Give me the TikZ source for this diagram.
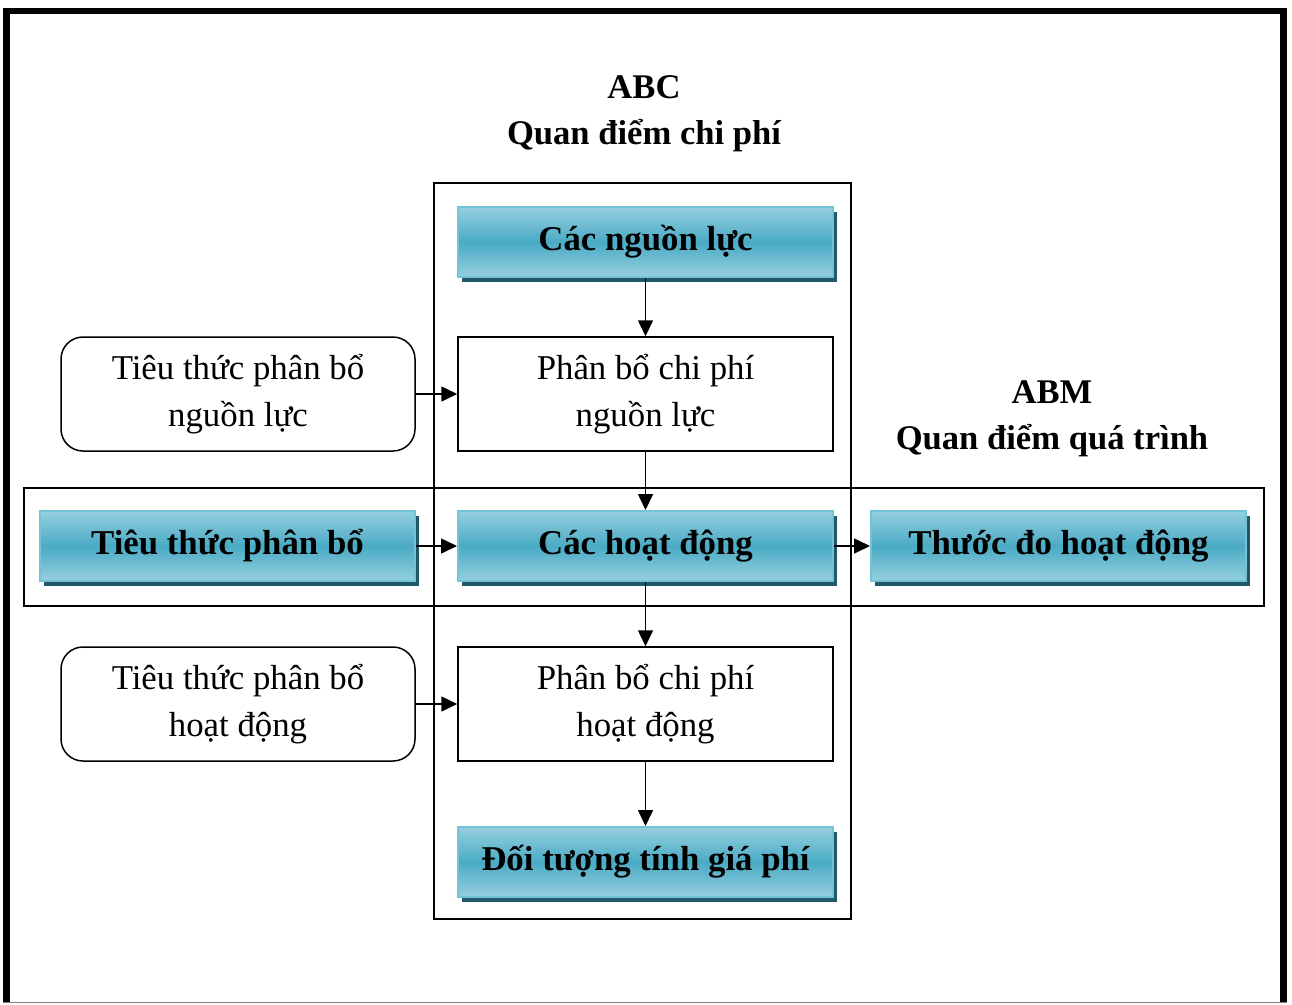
\documentclass[tikz,border=0pt]{standalone}
\usepackage{fontspec}
\setmainfont{Liberation Serif}
\usetikzlibrary{arrows.meta,shadows}
\definecolor{tealL}{HTML}{95CFDE}
\definecolor{tealM}{HTML}{4AABC5}
\definecolor{tealB}{HTML}{74C2D7}
\definecolor{tealD}{HTML}{22596A}
\begin{document}
\begin{tikzpicture}[x=1pt,y=-1pt,
  txt/.style={font=\fontsize{34.8}{47}\selectfont, align=center},
  tealbox/.style={txt, font=\fontsize{34.8}{47}\selectfont\bfseries,
    minimum width=375pt, minimum height=70pt, inner sep=0pt,
    draw=tealB, line width=2pt,
    top color=tealL, bottom color=tealL, middle color=tealM,
    drop shadow={shadow xshift=4pt, shadow yshift=-5pt, fill=tealD, opacity=1}},
  whitebox/.style={txt, minimum width=375pt, minimum height=114pt, inner sep=0pt,
    draw=black, line width=1.5pt, fill=white},
  roundbox/.style={txt, minimum width=354pt, minimum height=114pt, inner sep=0pt,
    draw=black, line width=1.5pt, rounded corners=22pt, fill=white},
  frame/.style={draw=black, line width=1.6pt},
  link/.style={draw=black, line width=1.6pt, -{Triangle[length=16pt,width=15pt]}},
  title/.style={font=\fontsize{34.6}{46}\selectfont\bfseries, align=center}]

\useasboundingbox (0,0) rectangle (1292,1004);

% page border
\fill[black] (3,8) rectangle (1287,14);
\fill[black] (3,8) rectangle (10,1003);
\fill[black] (1280,8) rectangle (1287,1003);
\draw[gray, line width=1pt] (3,1002.5) -- (1287,1002.5);

% the two perspective frames
\draw[frame] (434,183) rectangle (851,919);
\draw[frame] (24,488) rectangle (1264,606);

% headings
\node[title] (abc) at (644,114) {ABC\\Quan điểm chi phí};
\node[title] (abm) at (1052,419) {ABM\\Quan điểm quá trình};

% central column
\node[tealbox] (res) at (645.5,242) {Các nguồn lực};
\node[whitebox] (allocres) at (645.5,394) {Phân bổ chi phí\\nguồn lực};
\node[tealbox] (act) at (645.5,546) {Các hoạt động};
\node[whitebox] (allocact) at (645.5,704) {Phân bổ chi phí\\hoạt động};
\node[tealbox] (obj) at (645.5,862) {Đối tượng tính giá phí};

% side boxes
\node[roundbox] (drvres) at (238,394) {Tiêu thức phân bổ\\nguồn lực};
\node[tealbox] (drv) at (227.5,546) {Tiêu thức phân bổ};
\node[roundbox] (drvact) at (238,704) {Tiêu thức phân bổ\\hoạt động};
\node[tealbox] (meas) at (1058.5,546) {Thước đo hoạt động};

% connectors
\draw[link] (res) -- (allocres);
\draw[link] (allocres) -- (act);
\draw[link] (act) -- (allocact);
\draw[link] (allocact) -- (obj);
\draw[link] (drvres) -- (allocres);
\draw[link] (drv) -- (act);
\draw[link] (act) -- (meas);
\draw[link] (drvact) -- (allocact);
\end{tikzpicture}
\end{document}
